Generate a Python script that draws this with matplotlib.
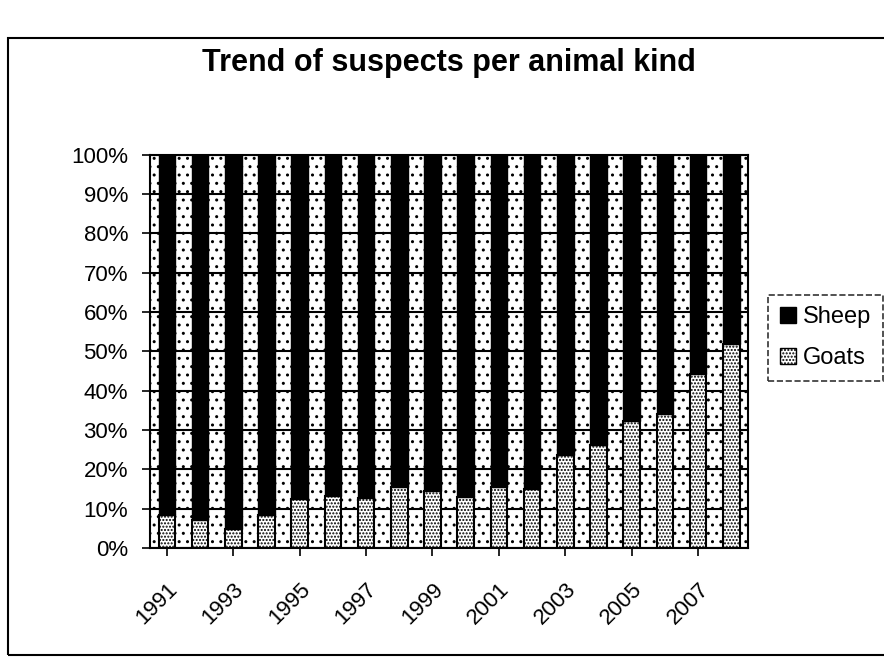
import matplotlib
matplotlib.use('Agg')
import numpy as np
import matplotlib.pyplot as plt
from matplotlib.patches import Patch, Rectangle
from matplotlib.ticker import PercentFormatter, MultipleLocator

years = list(range(1991, 2009))
sheep = [91.6, 93.0, 95.2, 91.5, 87.6, 86.7, 87.4, 84.5, 85.6,
         87.1, 84.4, 85.1, 76.3, 73.9, 67.6, 66.0, 55.7, 48.2]
goats = [8.4, 7.0, 4.8, 8.5, 12.4, 13.3, 12.6, 15.5, 14.4,
         12.9, 15.6, 14.9, 23.7, 26.1, 32.4, 34.0, 44.3, 51.8]

plt.rcParams['font.family'] = ['Liberation Sans', 'DejaVu Sans']
plt.rcParams['hatch.linewidth'] = 1.0

# 100% stacked shares
sheep = np.array(sheep, dtype=float)
goats = np.array(goats, dtype=float)
total = sheep + goats
goats_share = goats / total * 100
sheep_share = sheep / total * 100

x = np.arange(len(years))

fig = plt.figure(figsize=(8.84, 6.61), dpi=100)
ax = fig.add_axes([0.170, 0.171, 0.676, 0.595])
# fine dotted plot-area fill
ax.patch.set_edgecolor('black')
ax.patch.set_linewidth(0)
ax.patch.set_hatch('..')

ax.bar(x, goats_share, width=0.5, color='white', edgecolor='black',
       linewidth=1.5, hatch='.....', zorder=2)
ax.bar(x, sheep_share, bottom=goats_share, width=0.5, color='black',
       edgecolor='black', linewidth=1.0, zorder=2)

ax.set_xlim(-0.5, len(years) - 0.5)
ax.set_ylim(0, 100)
ax.yaxis.set_major_locator(MultipleLocator(10))
ax.yaxis.set_major_formatter(PercentFormatter(decimals=0))
ax.yaxis.grid(True, color='black', linewidth=1.5)
ax.set_axisbelow(True)

ax.set_xticks(x[::2])
ax.set_xticklabels([str(y) for y in years[::2]], rotation=45, ha='right',
                   rotation_mode='anchor')
ax.tick_params(axis='both', labelsize=16, direction='out', length=6,
               width=1.2, colors='black')
ax.tick_params(axis='x', pad=16)
ax.tick_params(axis='y', pad=10)
for s in ax.spines.values():
        s.set_linewidth(1.5)
        s.set_color('black')

fig.text(0.508, 0.905, 'Trend of suspects per animal kind', ha='center',
         va='center', fontsize=22, fontweight='bold')

handles = [
    Patch(facecolor='black', edgecolor='black', label='Sheep'),
    Patch(facecolor='white', edgecolor='black', hatch='.....', label='Goats'),
]
leg = fig.legend(handles=handles, loc='center', bbox_to_anchor=(0.934, 0.489),
                 fontsize=17, frameon=True, fancybox=False,
                 handlelength=0.7, handleheight=0.7, handletextpad=0.3,
                 labelspacing=0.8, borderpad=0.5, borderaxespad=0)
leg.get_frame().set_edgecolor('black')
leg.get_frame().set_linestyle('--')
leg.get_frame().set_linewidth(1.2)

# chart border
fig.patches.append(Rectangle((8 / 884, 1 - 655 / 661), 1.0, 617 / 661,
                             transform=fig.transFigure, fill=False,
                             linewidth=1.5, edgecolor='black'))

fig.savefig('out.png', dpi=100, facecolor='white')
